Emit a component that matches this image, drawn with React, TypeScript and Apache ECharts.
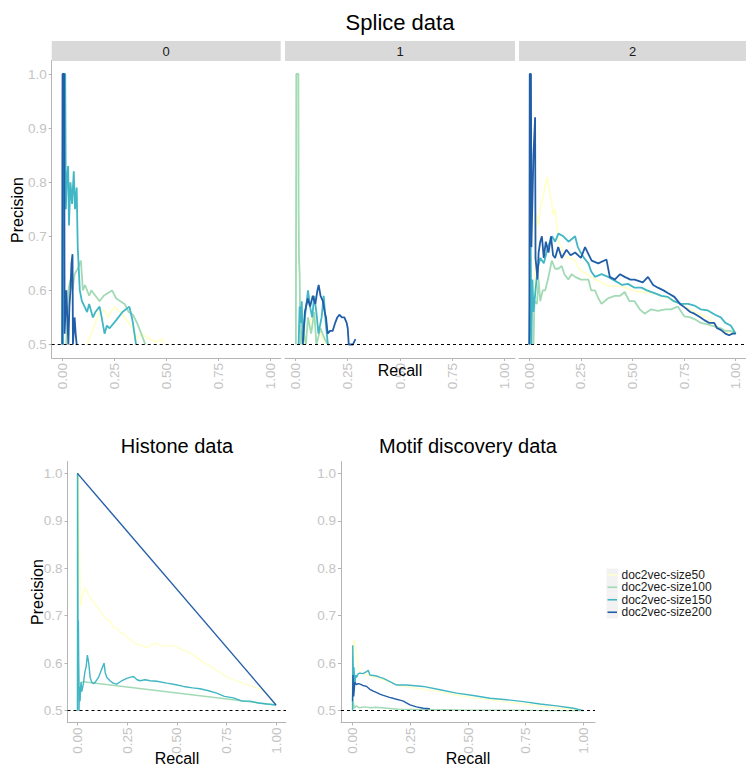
import React, { useEffect, useRef } from "react";
import * as echarts from "echarts";

const FONT = "'Liberation Sans', Arial, Helvetica, sans-serif";

const sizeNames = ["doc2vec-size50", "doc2vec-size100", "doc2vec-size150", "doc2vec-size200"];
const sizeColors = ["#ffffcc", "#a1dab4", "#41b6c4", "#225ea8"];
const facetLabels = ["0", "1", "2"];
const yTicks = [0.5, 0.6, 0.7, 0.8, 0.9, 1.0];
const xTicks = [0, 0.25, 0.5, 0.75, 1.0];
const baseline = 0.5;

// ---- Splice data, facet 0 ----
const splice0Size50 = [[0.12,0.5],[0.14,0.52],[0.16,0.54],[0.18,0.56],[0.2,0.565],[0.22,0.55],[0.25,0.57],[0.28,0.56],[0.3,0.55],[0.32,0.54],[0.34,0.53],[0.36,0.51],[0.38,0.52],[0.42,0.51],[0.45,0.505],[0.48,0.51],[0.49,0.5]];
const splice0Size100 = [[0.02,0.5],[0.03,0.6],[0.04,0.62],[0.05,0.6],[0.06,0.63],[0.075,0.64],[0.09,0.655],[0.1,0.6],[0.11,0.61],[0.13,0.59],[0.14,0.6],[0.16,0.59],[0.18,0.58],[0.2,0.59],[0.22,0.595],[0.24,0.6],[0.26,0.585],[0.28,0.58],[0.3,0.575],[0.32,0.56],[0.34,0.555],[0.36,0.54],[0.38,0.52],[0.39,0.51],[0.4,0.5]];
const splice0Size150 = [[0.005,0.5],[0.008,1.0],[0.015,1.0],[0.018,0.75],[0.022,0.8],[0.029,0.83],[0.033,0.72],[0.04,0.8],[0.048,0.76],[0.056,0.82],[0.062,0.75],[0.07,0.79],[0.075,0.68],[0.08,0.64],[0.085,0.6],[0.095,0.58],[0.108,0.57],[0.12,0.56],[0.13,0.575],[0.148,0.55],[0.16,0.56],[0.18,0.57],[0.19,0.55],[0.204,0.52],[0.215,0.535],[0.228,0.53],[0.26,0.545],[0.29,0.56],[0.323,0.57],[0.335,0.55],[0.34,0.54],[0.355,0.5]];
const splice0Size200 = [[0,0.5],[0.002,1.0],[0.01,1.0],[0.012,0.52],[0.02,0.6],[0.025,0.55],[0.03,0.5],[0.035,0.57],[0.04,0.6],[0.045,0.65],[0.05,0.667],[0.052,0.5],[0.06,0.55],[0.065,0.52],[0.07,0.5]];

// ---- Splice data, facet 1 ----
const splice1Size50 = [[0.04,0.5],[0.06,0.53],[0.08,0.55],[0.1,0.54],[0.12,0.52],[0.14,0.5]];
const splice1Size100 = [[0.002,0.5],[0.004,1.0],[0.014,1.0],[0.015,0.75],[0.017,0.66],[0.02,0.63],[0.024,0.5],[0.035,0.53],[0.05,0.5],[0.06,0.55],[0.075,0.52],[0.09,0.56],[0.1,0.5],[0.12,0.53],[0.14,0.51],[0.155,0.5]];
const splice1Size150 = [[0.015,0.5],[0.02,0.57],[0.025,0.54],[0.03,0.58],[0.035,0.5],[0.045,0.55],[0.06,0.6],[0.07,0.57],[0.08,0.55],[0.09,0.59],[0.1,0.56],[0.11,0.52],[0.125,0.55],[0.135,0.59],[0.145,0.54],[0.155,0.5],[0.16,0.5]];
const splice1Size200 = [[0.035,0.5],[0.045,0.56],[0.059,0.585],[0.07,0.57],[0.083,0.59],[0.095,0.575],[0.105,0.6],[0.111,0.61],[0.12,0.59],[0.131,0.58],[0.14,0.56],[0.146,0.55],[0.154,0.52],[0.165,0.525],[0.178,0.525],[0.19,0.54],[0.2,0.55],[0.21,0.555],[0.222,0.55],[0.234,0.55],[0.245,0.54],[0.25,0.53],[0.255,0.5],[0.265,0.5],[0.275,0.5],[0.287,0.51]];

// ---- Splice data, facet 2 ----
const splice2Size50 = [[0.02,0.5],[0.03,0.7],[0.037,0.74],[0.045,0.72],[0.053,0.75],[0.065,0.77],[0.075,0.79],[0.085,0.81],[0.095,0.79],[0.105,0.77],[0.115,0.74],[0.125,0.75],[0.133,0.72],[0.141,0.69],[0.155,0.68],[0.173,0.662],[0.2,0.66],[0.222,0.655],[0.24,0.64],[0.254,0.635],[0.28,0.63],[0.318,0.62],[0.35,0.615],[0.382,0.608],[0.446,0.608],[0.5,0.6],[0.543,0.597],[0.6,0.595],[0.639,0.59],[0.7,0.58],[0.735,0.575],[0.8,0.56],[0.864,0.55],[0.9,0.535],[0.928,0.527],[0.96,0.522],[1.0,0.52]];
const splice2Size100 = [[0.02,0.5],[0.025,0.58],[0.037,0.575],[0.045,0.62],[0.053,0.58],[0.065,0.6],[0.077,0.6],[0.09,0.62],[0.109,0.655],[0.125,0.64],[0.14,0.64],[0.157,0.645],[0.17,0.63],[0.189,0.62],[0.205,0.63],[0.222,0.625],[0.25,0.62],[0.286,0.62],[0.3,0.6],[0.318,0.6],[0.335,0.585],[0.35,0.575],[0.38,0.585],[0.414,0.59],[0.44,0.59],[0.462,0.597],[0.485,0.58],[0.51,0.58],[0.535,0.565],[0.559,0.557],[0.59,0.565],[0.623,0.562],[0.66,0.565],[0.687,0.565],[0.719,0.57],[0.751,0.552],[0.78,0.55],[0.8,0.547],[0.83,0.54],[0.864,0.537],[0.9,0.533],[0.928,0.53],[0.95,0.525],[0.976,0.525],[1.0,0.52]];
const splice2Size150 = [[0,0.5],[0.003,0.58],[0.006,0.72],[0.01,0.5],[0.015,0.62],[0.02,0.56],[0.03,0.6],[0.04,0.64],[0.053,0.66],[0.07,0.65],[0.09,0.68],[0.11,0.7],[0.125,0.69],[0.141,0.705],[0.165,0.7],[0.19,0.69],[0.222,0.7],[0.235,0.68],[0.246,0.672],[0.265,0.66],[0.286,0.65],[0.3,0.635],[0.318,0.625],[0.35,0.63],[0.382,0.625],[0.414,0.618],[0.45,0.61],[0.478,0.612],[0.51,0.605],[0.543,0.605],[0.57,0.6],[0.607,0.595],[0.64,0.59],[0.671,0.588],[0.7,0.58],[0.735,0.575],[0.77,0.575],[0.8,0.572],[0.83,0.565],[0.865,0.563],[0.9,0.555],[0.928,0.55],[0.95,0.54],[0.976,0.535],[1.0,0.52]];
const splice2Size200 = [[0,0.5],[0.002,1.0],[0.008,1.0],[0.01,0.68],[0.02,0.85],[0.028,0.92],[0.03,0.66],[0.04,0.62],[0.045,0.67],[0.053,0.69],[0.061,0.7],[0.07,0.66],[0.08,0.69],[0.093,0.67],[0.105,0.7],[0.115,0.665],[0.125,0.66],[0.14,0.68],[0.157,0.66],[0.18,0.675],[0.2,0.665],[0.222,0.67],[0.25,0.66],[0.27,0.68],[0.302,0.655],[0.334,0.65],[0.374,0.657],[0.39,0.625],[0.414,0.62],[0.44,0.63],[0.462,0.625],[0.49,0.62],[0.51,0.62],[0.55,0.615],[0.575,0.625],[0.6,0.61],[0.623,0.605],[0.65,0.6],[0.671,0.595],[0.703,0.588],[0.73,0.575],[0.751,0.569],[0.78,0.56],[0.8,0.557],[0.83,0.55],[0.848,0.545],[0.87,0.54],[0.896,0.54],[0.91,0.53],[0.928,0.527],[0.95,0.52],[0.968,0.517],[0.985,0.52],[1.0,0.52]];

// ---- Histone data ----
const histoneSize50 = [[0,1.0],[0.005,1.0],[0.008,0.9],[0.012,0.8],[0.015,0.72],[0.02,0.73],[0.03,0.75],[0.04,0.76],[0.05,0.75],[0.064,0.74],[0.08,0.73],[0.097,0.72],[0.115,0.71],[0.131,0.7],[0.15,0.69],[0.164,0.69],[0.18,0.675],[0.198,0.675],[0.215,0.665],[0.232,0.663],[0.25,0.655],[0.265,0.65],[0.28,0.645],[0.299,0.64],[0.32,0.638],[0.349,0.633],[0.37,0.638],[0.399,0.642],[0.42,0.637],[0.45,0.636],[0.475,0.637],[0.5,0.635],[0.525,0.628],[0.55,0.625],[0.58,0.618],[0.617,0.607],[0.65,0.598],[0.685,0.589],[0.72,0.58],[0.752,0.571],[0.786,0.565],[0.819,0.56],[0.85,0.555],[0.886,0.55],[0.92,0.545],[0.953,0.535],[0.98,0.522],[1.0,0.512]];
const histoneSize100 = [[0,1.0],[0.002,0.55],[0.005,0.6],[0.01,0.52],[0.02,0.56],[0.03,0.561],[1.0,0.512]];
const histoneSize150 = [[0,0.5],[0.001,1.0],[0.003,0.6],[0.005,0.69],[0.008,0.5],[0.01,0.55],[0.013,0.52],[0.018,0.56],[0.022,0.54],[0.03,0.557],[0.037,0.58],[0.044,0.593],[0.05,0.617],[0.057,0.6],[0.064,0.57],[0.072,0.56],[0.08,0.557],[0.09,0.56],[0.106,0.57],[0.12,0.585],[0.134,0.6],[0.14,0.58],[0.148,0.57],[0.164,0.563],[0.18,0.558],[0.198,0.556],[0.22,0.562],[0.248,0.568],[0.265,0.57],[0.282,0.572],[0.3,0.565],[0.315,0.563],[0.34,0.565],[0.366,0.563],[0.4,0.562],[0.45,0.558],[0.49,0.555],[0.534,0.551],[0.58,0.548],[0.617,0.546],[0.66,0.542],[0.701,0.537],[0.74,0.53],[0.785,0.527],[0.83,0.52],[0.869,0.52],[0.91,0.516],[0.953,0.514],[1.0,0.512]];
const histoneSize200 = [[0,1.0],[1.0,0.512]];

// ---- Motif discovery data ----
const motifSize50 = [[0,0.5],[0.005,0.65],[0.01,0.645],[0.017,0.62],[0.025,0.59],[0.032,0.58],[0.06,0.575],[0.1,0.57],[0.133,0.565],[0.191,0.555],[0.234,0.55],[0.306,0.545],[0.379,0.54],[0.451,0.533],[0.523,0.527],[0.595,0.523],[0.67,0.518],[0.74,0.514],[0.81,0.51],[0.884,0.506],[1.0,0.5]];
const motifSize100 = [[0,0.5],[0.003,0.52],[0.008,0.505],[0.015,0.51],[0.03,0.506],[0.05,0.508],[0.08,0.506],[0.1,0.507],[0.15,0.505],[0.2,0.503],[0.3,0.502],[0.4,0.502],[0.5,0.501],[0.7,0.501],[0.85,0.5],[1.0,0.5]];
const motifSize150 = [[0,0.5],[0.001,0.638],[0.004,0.56],[0.006,0.592],[0.01,0.555],[0.014,0.575],[0.017,0.57],[0.025,0.578],[0.032,0.579],[0.045,0.578],[0.061,0.582],[0.068,0.585],[0.075,0.575],[0.09,0.574],[0.104,0.573],[0.12,0.57],[0.133,0.568],[0.162,0.561],[0.191,0.554],[0.234,0.554],[0.306,0.551],[0.379,0.544],[0.451,0.537],[0.523,0.532],[0.595,0.526],[0.668,0.523],[0.74,0.519],[0.812,0.514],[0.884,0.51],[0.957,0.505],[1.0,0.5]];
const motifSize200 = [[0,0.52],[0.002,0.575],[0.005,0.53],[0.01,0.56],[0.017,0.555],[0.025,0.557],[0.032,0.556],[0.045,0.553],[0.061,0.551],[0.075,0.545],[0.09,0.541],[0.105,0.538],[0.118,0.535],[0.133,0.532],[0.147,0.53],[0.16,0.528],[0.176,0.526],[0.19,0.524],[0.205,0.522],[0.22,0.52],[0.235,0.516],[0.249,0.512],[0.263,0.51],[0.277,0.508],[0.306,0.505],[0.335,0.504]];

const panelData = [
  [splice0Size50, splice0Size100, splice0Size150, splice0Size200],
  [splice1Size50, splice1Size100, splice1Size150, splice1Size200],
  [splice2Size50, splice2Size100, splice2Size150, splice2Size200],
  [histoneSize50, histoneSize100, histoneSize150, histoneSize200],
  [motifSize50, motifSize100, motifSize150, motifSize200],
];

// layout (pixels)
const grids = [
  { left: 51.7, top: 60.5, width: 229, height: 297.5, showY: true },
  { left: 285, top: 60.5, width: 230, height: 297.5, showY: false },
  { left: 519, top: 60.5, width: 227, height: 297.5, showY: false },
  { left: 67.5, top: 461.5, width: 218.5, height: 261, showY: true },
  { left: 341, top: 461.5, width: 254, height: 261, showY: true },
];

const AXIS_GREY = "#b5b5b5";
const LABEL_GREY = "#c4c4c4";

function txt(x: number, y: number, text: string, size: number, extra: any = {}) {
  return {
    type: "text",
    x,
    y,
    rotation: extra.rotation || 0,
    z: 100,
    silent: true,
    style: {
      text,
      x: 0,
      y: 0,
      fill: extra.fill || "#000000",
      fontSize: size,
      fontFamily: FONT,
      align: extra.align || "center",
      textAlign: extra.align || "center",
      verticalAlign: "middle",
      textVerticalAlign: "middle",
    },
  };
}

export default function App() {
  const ref = useRef<HTMLDivElement>(null);

  useEffect(() => {
    if (!ref.current) return;
    const chart = echarts.init(ref.current, undefined, { renderer: "svg" });

    const xAxes = grids.map((g, i) => ({
      type: "value",
      gridIndex: i,
      min: -0.05,
      max: 1.05,
      axisLine: { show: true, onZero: false, lineStyle: { color: AXIS_GREY, width: 1 } },
      axisTick: { show: true, length: 3, customValues: xTicks, lineStyle: { color: AXIS_GREY } },
      axisLabel: {
        show: true,
        customValues: xTicks,
        formatter: (v: number) => v.toFixed(2),
        rotate: 90,
        margin: 5,
        color: LABEL_GREY,
        fontSize: 13.5,
        fontFamily: FONT,
      },
      splitLine: { show: false },
    }));

    const yAxes = grids.map((g, i) => ({
      type: "value",
      gridIndex: i,
      min: 0.475,
      max: 1.025,
      axisLine: { show: g.showY, onZero: false, lineStyle: { color: AXIS_GREY, width: 1 } },
      axisTick: { show: g.showY, length: 3, customValues: yTicks, lineStyle: { color: AXIS_GREY } },
      axisLabel: {
        show: g.showY,
        customValues: yTicks,
        formatter: (v: number) => v.toFixed(1),
        margin: 5,
        color: LABEL_GREY,
        fontSize: 13.5,
        fontFamily: FONT,
      },
      splitLine: { show: false },
    }));

    const series: any[] = [];
    panelData.forEach((panel, p) => {
      panel.forEach((data, k) => {
        const s: any = {
          type: "line",
          name: sizeNames[k],
          xAxisIndex: p,
          yAxisIndex: p,
          data,
          showSymbol: false,
          symbol: "none",
          silent: true,
          z: 2 + k,
          lineStyle: { color: sizeColors[k], width: p < 3 ? 1.8 : 1.4 },
          itemStyle: { color: sizeColors[k] },
        };
        if (k === 3) {
          s.markLine = {
            silent: true,
            symbol: ["none", "none"],
            label: { show: false },
            lineStyle: { color: "#000000", type: [3, 3], width: 1 },
            data: [{ yAxis: baseline }],
            z: 10,
          };
        }
        series.push(s);
      });
    });

    const graphics: any[] = [];
    // titles
    graphics.push(txt(400, 22, "Splice data", 22));
    graphics.push(txt(177, 446, "Histone data", 20));
    graphics.push(txt(468, 446, "Motif discovery data", 20));
    // strips
    facetLabels.forEach((lab, i) => {
      const g = grids[i];
      graphics.push({
        type: "rect",
        silent: true,
        shape: { x: g.left, y: 41, width: g.width, height: 20 },
        style: { fill: "#d9d9d9" },
        z: 50,
      });
      graphics.push(txt(g.left + g.width / 2, 51, lab, 13, { fill: "#1a1a1a" }));
    });
    // axis names
    graphics.push(txt(400, 370.5, "Recall", 16));
    graphics.push(txt(177, 758, "Recall", 16));
    graphics.push(txt(468, 758, "Recall", 16));
    graphics.push(txt(17.5, 210, "Precision", 16, { rotation: Math.PI / 2 }));
    graphics.push(txt(37.5, 592, "Precision", 16, { rotation: Math.PI / 2 }));
    // legend
    const legX = 606.5;
    const legY = 568.5;
    const rowH = 12.5;
    sizeNames.forEach((name, k) => {
      const cy = legY + rowH * k + rowH / 2;
      graphics.push({
        type: "rect",
        silent: true,
        shape: { x: legX, y: legY + rowH * k, width: 11.5, height: rowH },
        style: { fill: "#f2f2f2" },
        z: 50,
      });
      graphics.push({
        type: "line",
        silent: true,
        shape: { x1: legX + 1, y1: cy, x2: legX + 10.5, y2: cy },
        style: { stroke: sizeColors[k], lineWidth: 1.6 },
        z: 51,
      });
      graphics.push(txt(legX + 15, cy, name, 12, { align: "left", fill: "#1a1a1a" }));
    });

    chart.setOption({
      animation: false,
      backgroundColor: "#ffffff",
      textStyle: { fontFamily: FONT },
      grid: grids.map((g) => ({
        left: g.left,
        top: g.top,
        width: g.width,
        height: g.height,
        containLabel: false,
        outerBoundsMode: "none",
      })),
      xAxis: xAxes,
      yAxis: yAxes,
      series,
      graphic: { elements: graphics },
    });

    return () => chart.dispose();
  }, []);

  return (
    <div
      ref={ref}
      style={{ position: "absolute", left: 0, top: 0, width: 746, height: 765 }}
    />
  );
}
